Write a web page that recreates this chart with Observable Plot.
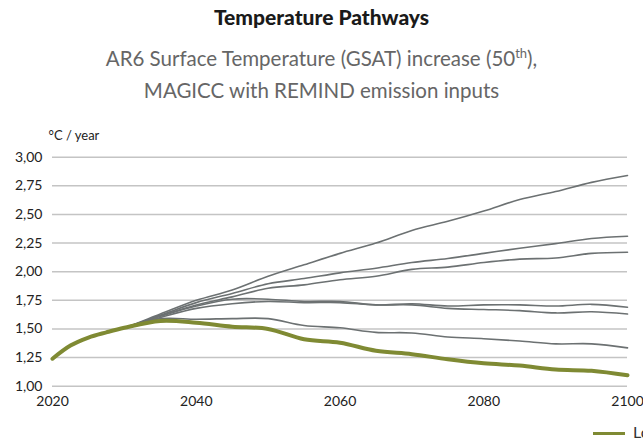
<!DOCTYPE html>
<html>
<head>
<meta charset="utf-8">
<script src="https://cdn.jsdelivr.net/npm/d3@7"></script>
<script src="https://cdn.jsdelivr.net/npm/@observablehq/plot@0.6"></script>
<style>
  html, body { margin: 0; padding: 0; background: #fff; overflow: hidden; }
  body { width: 643px; height: 441px; position: relative; font-family: Lato, "Open Sans", sans-serif; }
  .t { position: absolute; left: 0; width: 643px; text-align: center; white-space: nowrap; }
  #title { top: 4px; font-size: 21px; font-weight: 900; color: #1a1a1a; }
  #sub1 { top: 45px; font-size: 20.5px; color: #666; }
  #sub2 { top: 78px; font-size: 20.5px; color: #666; }
  #chart { position: absolute; left: 0; top: 110px; }
  #legend { position: absolute; left: 593px; top: 422px; white-space: nowrap; font-size: 16px; color: #333; }
  #legend .sw { display: inline-block; width: 32px; height: 3px; background: #7f8a33; vertical-align: middle; margin-right: 8px; }
</style>
</head>
<body>
<div class="t" id="title">Temperature Pathways</div>
<div class="t" id="sub1">AR6 Surface Temperature (GSAT) increase (50<sup style="font-size:13px">th</sup>),</div>
<div class="t" id="sub2">MAGICC with REMIND emission inputs</div>
<div id="chart"></div>
<div id="legend"><span class="sw"></span>Low pathway</div>
<script>
const years = [2020,2022.5,2025,2027.5,2030,2035,2040,2045,2050,2055,2060,2065,2070,2075,2080,2085,2090,2095,2100];
const s1 = [1.24,1.355,1.425,1.47,1.51,1.63,1.75,1.84,1.96,2.06,2.16,2.25,2.36,2.44,2.53,2.63,2.70,2.78,2.84];
const s2 = [1.24,1.355,1.425,1.47,1.51,1.62,1.73,1.81,1.895,1.94,1.99,2.03,2.08,2.115,2.16,2.205,2.245,2.29,2.31];
const s3 = [1.24,1.355,1.425,1.47,1.51,1.615,1.71,1.78,1.855,1.885,1.93,1.96,2.02,2.04,2.08,2.11,2.12,2.16,2.17];
const s4 = [1.24,1.355,1.425,1.47,1.51,1.61,1.70,1.76,1.76,1.74,1.74,1.71,1.72,1.70,1.71,1.71,1.70,1.715,1.69];
const s5 = [1.24,1.355,1.425,1.47,1.51,1.60,1.68,1.72,1.74,1.73,1.73,1.71,1.71,1.68,1.67,1.66,1.64,1.65,1.63];
const s6 = [1.24,1.355,1.425,1.47,1.51,1.59,1.585,1.59,1.59,1.53,1.51,1.47,1.465,1.43,1.415,1.395,1.37,1.37,1.335];
const highlight = [1.24,1.355,1.425,1.47,1.51,1.57,1.555,1.52,1.50,1.41,1.38,1.31,1.28,1.235,1.20,1.18,1.145,1.135,1.095];
const yTicks = [1.00,1.25,1.50,1.75,2.00,2.25,2.50,2.75,3.00];
const xTicks = [2020,2040,2060,2080,2100];

const grays = [s1,s2,s3,s4,s5,s6];
const grayRows = grays.flatMap((s, i) => s.map((v, j) => ({series: "S" + (i+1), year: years[j], value: v})));
const greenRows = highlight.map((v, j) => ({year: years[j], value: v}));

const plot = Plot.plot({
  width: 643,
  height: 310,
  marginTop: 46.7,
  marginBottom: 34.3,
  marginLeft: 52,
  marginRight: 16,
  style: {fontFamily: "Lato, 'Open Sans', sans-serif", fontSize: "14px", color: "#222", background: "#fff"},
  x: {domain: [2020, 2100], ticks: xTicks, tickFormat: d => String(d), tickSize: 0, tickPadding: 10, label: null},
  y: {domain: [1, 3], ticks: yTicks, tickFormat: d => d.toFixed(2).replace(".", ","), tickSize: 0, tickPadding: 10, label: null},
  marks: [
    Plot.ruleY(yTicks, {stroke: "#c4c4c4", strokeWidth: 1.5}),
    Plot.line(grayRows, {x: "year", y: "value", z: "series", stroke: "#6c7172", strokeWidth: 1.6, curve: "catmull-rom"}),
    Plot.line(greenRows, {x: "year", y: "value", stroke: "#7f8a33", strokeWidth: 4, curve: "catmull-rom"}),
    Plot.text(["°C / year"], {frameAnchor: "top-left", dx: -4, dy: -26, textAnchor: "start", fontSize: 13, fill: "#222"})
  ]
});
document.getElementById("chart").appendChild(plot);
</script>
</body>
</html>
